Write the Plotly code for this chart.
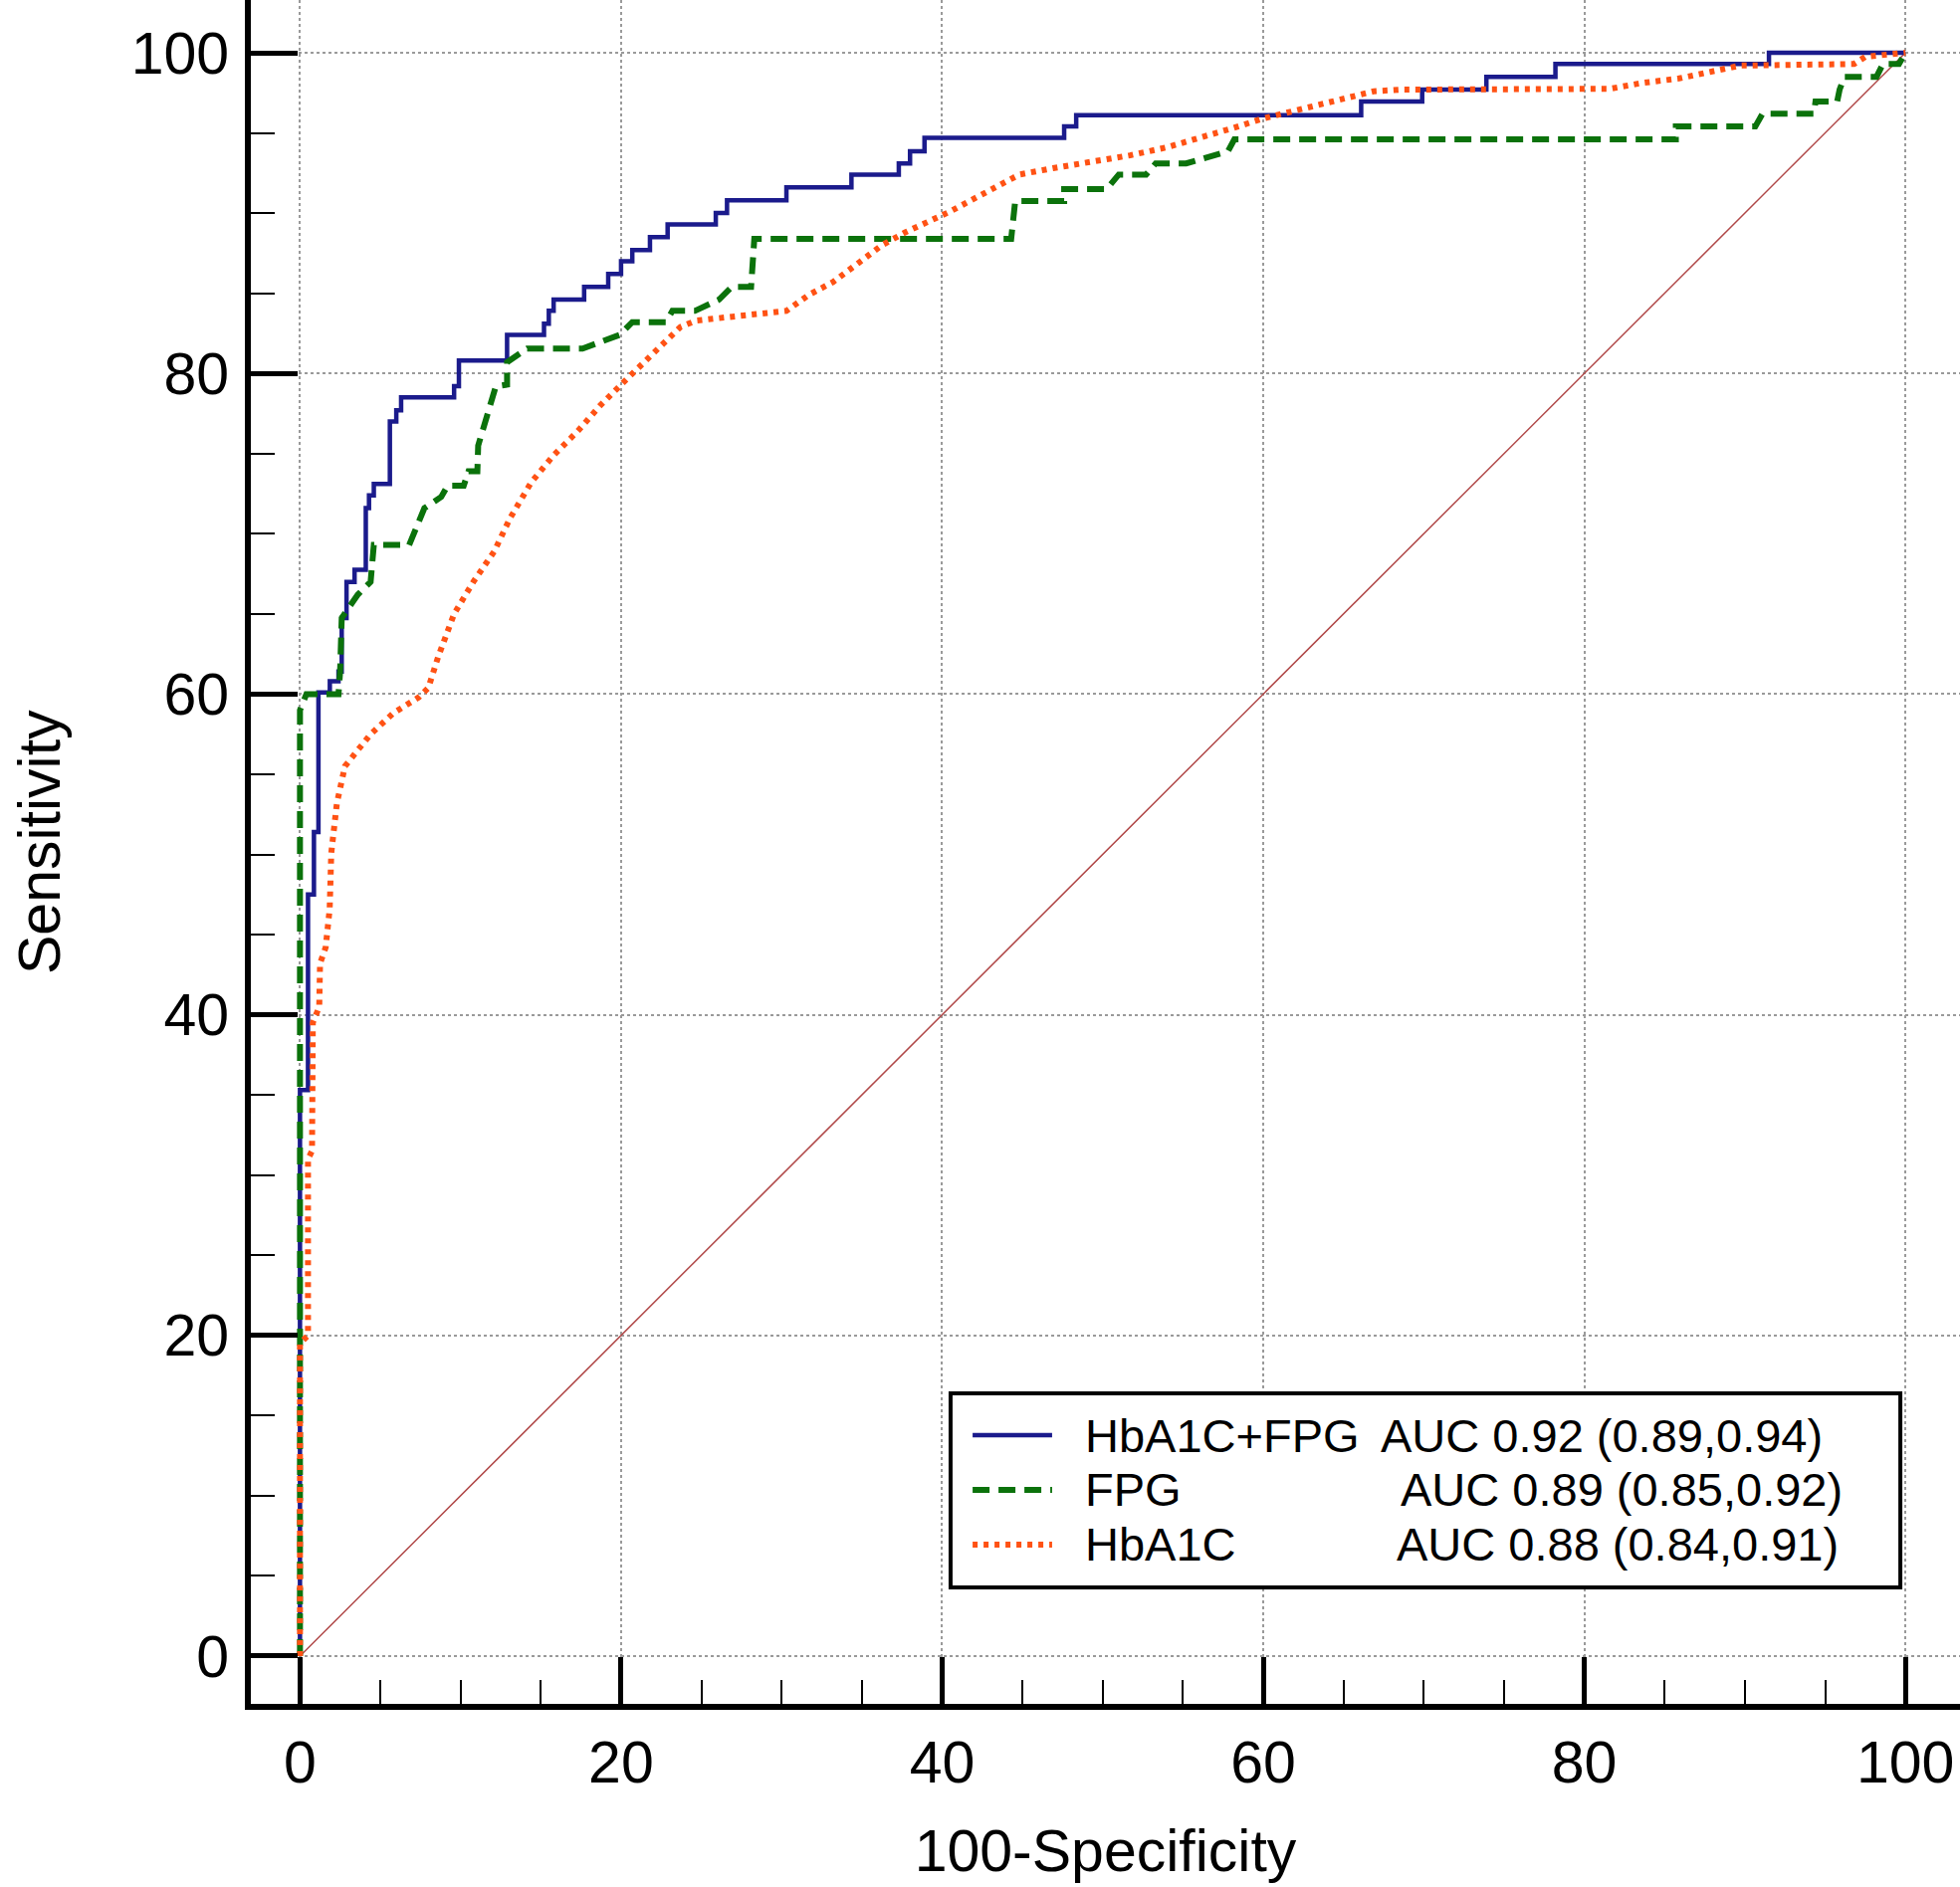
import plotly.graph_objects as go

# ROC curves, values (100-Specificity, Sensitivity)
combo_x = [0, 0, 0.5, 0.87, 1.15, 1.86, 2.4, 2.6, 2.9, 3.4, 4.1, 4.3, 4.6, 5.6, 6.0, 6.3,
           9.6, 9.9, 12.9, 15.2, 15.5, 15.8, 17.7, 19.2, 20.0, 20.7, 21.8, 22.9, 25.9,
           26.6, 30.3, 34.35, 37.3, 38.0, 38.9, 47.6, 48.35, 66.1, 69.9, 73.9, 78.2,
           91.5, 100]
combo_y = [0, 35.3, 47.5, 51.4, 60.1, 60.8, 61.4, 64.75, 67.0, 67.75, 71.6, 72.4, 73.1,
           77.0, 77.7, 78.5, 79.2, 80.8, 82.4, 83.1, 83.9, 84.6, 85.4, 86.2, 87.0, 87.7,
           88.5, 89.3, 90.0, 90.8, 91.6, 92.4, 93.1, 93.85, 94.7, 95.4, 96.1, 96.96,
           97.7, 98.5, 99.3, 100, 100]

fpg_x = [0, 0, 0.4, 2.4, 2.5, 2.6, 3.6, 4.4, 4.6, 6.8, 7.75, 8.8, 9.2, 10.2, 10.5, 11.05,
         11.1, 11.6, 12.2, 12.9, 12.9, 14.15, 17.6, 19.9, 20.7, 22.8, 23.2, 24.6, 26.1,
         26.9, 28.1, 28.3, 44.3, 44.55, 47.6, 47.6, 50.25, 51.0, 52.7, 53.3, 55.2, 57.8,
         58.2, 85.7, 85.7, 90.65, 91.1, 94.3, 94.4, 95.75, 95.9, 96.2, 98.2, 98.6, 99.6,
         100]
fpg_y = [0, 59.0, 60.0, 60.0, 61.4, 64.75, 66.2, 67.0, 69.3, 69.3, 71.6, 72.3, 73.0,
         73.0, 73.9, 73.9, 75.5, 77.1, 79.2, 79.3, 80.7, 81.55, 81.55, 82.4, 83.2, 83.2,
         83.9, 83.9, 84.6, 85.4, 85.4, 88.4, 88.4, 90.75, 90.75, 91.5, 91.5, 92.4, 92.4,
         93.1, 93.1, 93.85, 94.6, 94.6, 95.4, 95.4, 96.2, 96.2, 96.96, 96.96, 97.7, 98.5,
         98.5, 99.3, 99.3, 100]

hba_x = [0, 0, 0.5, 0.5, 0.75, 0.8, 1.2, 1.25, 1.6, 1.85, 1.95, 2.3, 2.8, 3.4, 4.4, 5.8,
         7.4, 8.0, 8.6, 9.6, 10.8, 12.1, 13.1, 14.4, 15.8, 17.3, 18.7, 20.1, 21.4, 22.7,
         23.7, 24.7, 26.5, 28.9, 30.3, 31.7, 33.2, 34.8, 36.25, 37.7, 39.1, 40.5, 41.9,
         43.4, 44.8, 46.9, 49.3, 51.7, 54.0, 56.2, 58.1, 60.0, 62.35, 65.0, 66.9, 68.6,
         80.0, 81.6, 83.5, 85.9, 87.8, 89.7, 96.8, 97.5, 100]
hba_y = [0, 19.5, 20.0, 31.0, 31.5, 39.5, 40.5, 43.2, 44.2, 46.6, 50.1, 53.2, 55.5, 56.3,
         57.5, 58.8, 59.8, 60.4, 62.3, 65.0, 67.0, 68.9, 71.0, 73.2, 74.9, 76.4, 78.0,
         79.4, 80.7, 81.9, 82.9, 83.3, 83.5, 83.7, 83.9, 84.9, 85.7, 86.9, 88.0, 88.8,
         89.4, 90.1, 90.85, 91.7, 92.4, 92.8, 93.2, 93.6, 94.1, 94.7, 95.3, 95.9, 96.5,
         97.2, 97.6, 97.7, 97.7, 97.75, 98.1, 98.4, 98.8, 99.2, 99.3, 99.75, 100]

names = ["HbA1C+FPG", "FPG", "HbA1C"]
auc_text = ["AUC 0.92 (0.89,0.94)", "AUC 0.89 (0.85,0.92)", "AUC 0.88 (0.84,0.91)"]
ref_line = [0, 100]
ticks = [0, 20, 40, 60, 80, 100]

BLUE = "#1b1b8c"
GREEN = "#0b720b"
ORANGE = "#ff5214"
FONT = "Liberation Sans, Arial, sans-serif"

blue_line = dict(color=BLUE, width=4.5)
green_line = dict(color=GREEN, width=6, dash="17px,9px")
orange_line = dict(color=ORANGE, width=6, dash="5px,6px")

fig = go.Figure()

fig.add_trace(go.Scatter(x=ref_line, y=ref_line, mode="lines",
                         line=dict(color="#b04848", width=1.5), showlegend=False))
fig.add_trace(go.Scatter(x=combo_x, y=combo_y, mode="lines", name=names[0],
                         line=dict(shape="hv", **blue_line), showlegend=False))
fig.add_trace(go.Scatter(x=fpg_x, y=fpg_y, mode="lines", name=names[1],
                         line=green_line, showlegend=False))
fig.add_trace(go.Scatter(x=hba_x, y=hba_y, mode="lines", name=names[2],
                         line=orange_line, showlegend=False))

axis_common = dict(
    showline=True, linecolor="black", linewidth=6,
    ticks="inside", ticklen=47, tickwidth=5, tickcolor="black",
    tickvals=ticks, showgrid=True, gridcolor="#9a9a9a", gridwidth=1.5, griddash="dot",
    zeroline=False, mirror=False,
    minor=dict(dtick=5, ticks="inside", ticklen=24, tickwidth=2, tickcolor="black",
               showgrid=False),
    tickfont=dict(family=FONT, size=59, color="black"),
)

fig.update_xaxes(range=[-3.06, 103.4], ticklabelstandoff=2,
                 title=dict(text="100-Specificity", font=dict(family=FONT, size=59, color="black"),
                            standoff=38),
                 **axis_common)
fig.update_yaxes(range=[-2.98, 103.29], ticklabelstandoff=4, **axis_common)

# y title sits close to the page edge, further out than plotly's standoff allows
fig.add_annotation(text="Sensitivity", xref="paper", yref="paper", x=-0.1235, y=0.5058,
                   textangle=-90, xanchor="center", yanchor="middle", showarrow=False,
                   font=dict(family=FONT, size=59, color="black"))

# legend box drawn by hand so the AUC column lines up as in the original
fig.add_shape(type="rect", xref="paper", yref="paper", x0=0.4094, x1=0.9651, y0=0.0683,
              y1=0.1822, line=dict(color="black", width=4), fillcolor="white", layer="above")
row_y = [0.1577, 0.1256, 0.0935]
styles = [blue_line, green_line, orange_line]
auc_x = [0.6599, 0.6715, 0.6694]
for i in range(3):
    fig.add_shape(type="line", xref="paper", yref="paper", x0=0.4223, x1=0.4688,
                  y0=row_y[i], y1=row_y[i], line=styles[i], layer="above")
    fig.add_annotation(text=names[i], xref="paper", yref="paper", x=0.4869, y=row_y[i],
                       xanchor="left", yanchor="middle", showarrow=False,
                       font=dict(family=FONT, size=47, color="black"))
    fig.add_annotation(text=auc_text[i], xref="paper", yref="paper", x=auc_x[i], y=row_y[i],
                       xanchor="left", yanchor="middle", showarrow=False,
                       font=dict(family=FONT, size=47, color="black"))

fig.update_layout(
    width=1969, height=1896,
    margin=dict(l=252, r=0, t=0, b=184, autoexpand=False),
    plot_bgcolor="white", paper_bgcolor="white",
    showlegend=False,
)

# the page body has a default 8px margin; drop it so the figure sits at the corner
fig.write_html("out.html", config={"displayModeBar": False},
               post_script="document.body.style.margin='0';")
